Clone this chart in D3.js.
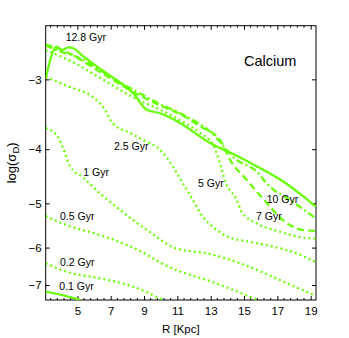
<!DOCTYPE html>
<html>
<head>
<meta charset="utf-8">
<script src="https://cdn.jsdelivr.net/npm/d3@7"></script>
<style>
  body { margin: 0; background: #fff; }
  svg { font-family: "Liberation Sans", Arial, sans-serif; }
</style>
</head>
<body>
<svg id="chart" width="349" height="338"></svg>
<script>
// ---- data: [R (kpc), log(sigma_D)] ----
const gyr01 = [[3.1, -7.19], [4.2, -7.31], [5.2, -7.45]];
const gyr02 = [[3.1, -6.40], [4.36, -6.63], [6.36, -6.81], [8.36, -7.05], [10.15, -7.45]];
const gyr05 = [[3.1, -5.27], [4.36, -5.47], [6.36, -5.70], [8.34, -6.0], [10.56, -6.51], [13.26, -6.94], [15.83, -7.45]];
const gyr1 = [[3.1, -3.67], [3.72, -3.76], [4.14, -3.98], [4.56, -4.29], [5.36, -4.50], [6.36, -4.80], [7.36, -5.08],
  [8.36, -5.36], [9.36, -5.63], [10.86, -6.01], [12.96, -6.16], [15.36, -6.50], [17.16, -6.86], [19.3, -7.32]];
const gyr25 = [[3.1, -2.97], [4.36, -3.08], [6.16, -3.27], [6.66, -3.40], [7.14, -3.60], [8.16, -3.74], [8.94, -3.85],
  [9.96, -4.01], [10.74, -4.30], [11.28, -4.58], [11.76, -4.83], [12.54, -5.29], [13.14, -5.51], [14.04, -5.74],
  [15.36, -5.86], [16.56, -5.96], [18.06, -6.13], [19.3, -6.37]];
const gyr5 = [[3.1, -2.66], [4.36, -2.76], [6.36, -2.98], [8.34, -3.23], [9.96, -3.40], [11.16, -3.55], [12.36, -3.74],
  [13.14, -3.93], [13.5, -4.18], [13.86, -4.56], [14.56, -4.93], [14.86, -5.18], [15.76, -5.43], [17.16, -5.62],
  [18.76, -5.77], [19.3, -5.78]];
const gyr7 = [[3.1, -2.60], [4.36, -2.68], [6.36, -2.91], [8.34, -3.16], [9.96, -3.34], [11.16, -3.46], [12.36, -3.64],
  [13.56, -3.85], [14.16, -4.18], [15.16, -4.54], [16.36, -4.99], [17.34, -5.36], [18.54, -5.58], [19.3, -5.60]];
const gyr10 = [[3.1, -2.61], [3.76, -2.66], [5.16, -2.75], [6.36, -2.89], [8.34, -3.13], [9.96, -3.32], [11.16, -3.45],
  [12.96, -3.72], [14.56, -4.18], [15.66, -4.36], [16.56, -4.67], [17.76, -4.93], [19.3, -5.32]];
const gyr128 = [[3.1, -2.99], [3.76, -2.62], [4.06, -2.66], [4.46, -2.63], [4.76, -2.64], [5.36, -2.73], [6.36, -2.87],
  [7.36, -3.01], [8.36, -3.18], [9.16, -3.40], [9.96, -3.45], [11.16, -3.59], [12.96, -3.90], [14.56, -4.11],
  [15.76, -4.29], [17.36, -4.57], [18.56, -4.86], [19.3, -5.07]];

const xTicks = [5, 7, 9, 11, 13, 15, 17, 19];
const yTicks = [-3, -4, -5, -6, -7];

// annotation text and anchor (data units)
const ageNames = ["12.8 Gyr", "2.5 Gyr", "1 Gyr", "0.5 Gyr", "0.2 Gyr", "0.1 Gyr", "5 Gyr", "7 Gyr", "10 Gyr"];
const ageAnchors = [[4.30, -2.534], [7.20, -3.96], [5.36, -4.41], [3.96, -5.29], [3.96, -6.40], [3.92, -7.05],
  [12.24, -4.62], [15.72, -5.29], [16.36, -4.93]];

const svg = d3.select('#chart');
const margin = { top: 25.7, left: 45.7, right: 33, bottom: 38 };
const width = +svg.attr('width');
const height = +svg.attr('height');
const green = '#66ff00';

const x = d3.scaleLinear().domain([3.1, 19.32]).range([margin.left, width - margin.right]);
// the axis in the figure is logarithmic in |log sigma|
const y = d3.scaleLog().domain([-2.405, -7.446]).range([margin.top, height - margin.bottom]);

const [x0, x1] = x.range();
const [y0, y1] = y.range();

svg.append('clipPath').attr('id', 'clip')
  .append('rect').attr('x', x0).attr('y', y0).attr('width', x1 - x0).attr('height', y1 - y0);

// minor ticks every 0.4 kpc
const minor = d3.range(3.4, 19.3, 0.4).filter(v => Math.abs((v - 5) / 2 - Math.round((v - 5) / 2)) > 0.01);

// bottom axis
svg.append('g')
  .attr('transform', `translate(0,${y1})`)
  .call(d3.axisBottom(x).tickValues(xTicks).tickSizeInner(-4).tickSizeOuter(0).tickPadding(7))
  .call(g => g.select('.domain').remove())
  .selectAll('text').attr('font-size', 11.5).attr('font-family', 'Liberation Sans, Arial');
// top axis
svg.append('g')
  .attr('transform', `translate(0,${y0})`)
  .call(d3.axisTop(x).tickValues(xTicks).tickSizeInner(-4).tickSizeOuter(0).tickFormat(''))
  .call(g => g.select('.domain').remove());

// minor ticks top and bottom
svg.append('g').selectAll('line').data(minor).enter().append('line')
  .attr('x1', d => x(d)).attr('x2', d => x(d)).attr('y1', y1).attr('y2', y1 - 2)
  .attr('stroke', '#000');
svg.append('g').selectAll('line').data(minor).enter().append('line')
  .attr('x1', d => x(d)).attr('x2', d => x(d)).attr('y1', y0).attr('y2', y0 + 2)
  .attr('stroke', '#000');

// left axis
svg.append('g')
  .attr('transform', `translate(${x0},0)`)
  .call(d3.axisLeft(y).tickValues(yTicks).tickSizeInner(-4).tickSizeOuter(0).tickPadding(4).tickFormat(d3.format('d')))
  .call(g => g.select('.domain').remove())
  .selectAll('text').attr('font-size', 11.5).attr('font-family', 'Liberation Sans, Arial');
// right axis
svg.append('g')
  .attr('transform', `translate(${x1},0)`)
  .call(d3.axisRight(y).tickValues(yTicks).tickSizeInner(-4).tickSizeOuter(0).tickFormat(''))
  .call(g => g.select('.domain').remove());

// frame
svg.append('rect')
  .attr('x', x0).attr('y', y0).attr('width', x1 - x0).attr('height', y1 - y0)
  .attr('fill', 'none').attr('stroke', '#000').attr('stroke-width', 1);

// curves
const line = d3.line().x(d => x(d[0])).y(d => y(d[1])).curve(d3.curveMonotoneX);
const series = [
  { data: gyr01, dash: null },
  { data: gyr02, dash: '2,3' },
  { data: gyr05, dash: '2,3' },
  { data: gyr1, dash: '2,3' },
  { data: gyr25, dash: '2,3' },
  { data: gyr5, dash: '2,3' },
  { data: gyr7, dash: '7,4' },
  { data: gyr10, dash: '7,3,2,3' },
  { data: gyr128, dash: null }
];
svg.append('g').attr('clip-path', 'url(#clip)')
  .selectAll('path').data(series).enter().append('path')
  .attr('d', d => line(d.data))
  .attr('fill', 'none')
  .attr('stroke', green)
  .attr('stroke-width', 2.2)
  .attr('stroke-dasharray', d => d.dash);

// labels on curves
svg.append('g').selectAll('text').data(ageNames).enter().append('text')
  .attr('x', (d, i) => x(ageAnchors[i][0]))
  .attr('y', (d, i) => y(ageAnchors[i][1]))
  .attr('dominant-baseline', 'middle')
  .attr('font-size', 10.5)
  .attr('fill', '#000')
  .text(d => d);

svg.append('text')
  .attr('x', x(15.0)).attr('y', y(-2.79))
  .attr('dominant-baseline', 'middle')
  .attr('font-size', 14.5)
  .text('Calcium');

// axis titles
svg.append('text')
  .attr('x', (x0 + x1) / 2).attr('y', 330)
  .attr('text-anchor', 'middle').attr('dominant-baseline', 'middle')
  .attr('font-size', 11.5)
  .text('R [Kpc]');

const yl = svg.append('text')
  .attr('transform', `translate(13,${(y0 + y1) / 2}) rotate(-90)`)
  .attr('text-anchor', 'middle').attr('dominant-baseline', 'middle')
  .attr('font-size', 13);
yl.append('tspan').text('log(σ');
yl.append('tspan').attr('font-size', 9.5).attr('dy', 3).text('D');
yl.append('tspan').attr('dy', -3).text(')');
</script>
</body>
</html>
